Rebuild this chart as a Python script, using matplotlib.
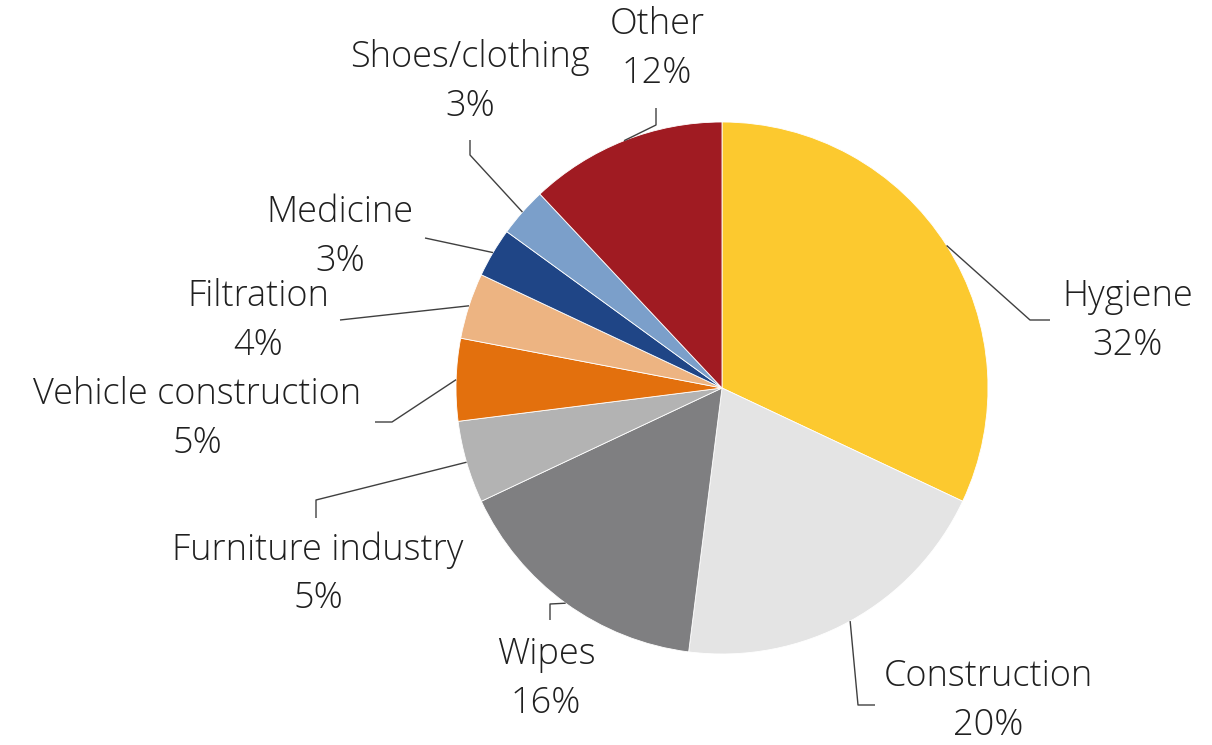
import numpy as np
import matplotlib.pyplot as plt

categories = ["Hygiene", "Construction", "Wipes", "Furniture industry",
              "Vehicle construction", "Filtration", "Medicine",
              "Shoes/clothing", "Other"]
shares = [32, 20, 16, 5, 5, 4, 3, 3, 12]
colors = ["#FCC92F", "#E4E4E4", "#7F7F81", "#B3B3B3", "#E3700D",
          "#EDB482", "#1F4586", "#7B9FCA", "#A01B22"]

W, H = 1212, 745
fig = plt.figure(figsize=(W / 100, H / 100), dpi=100)
ax = fig.add_axes([0, 0, 1, 1])

cx, cy, R = 722, H - 388, 266
wedges, _ = ax.pie(shares, colors=colors, startangle=90, counterclock=False,
                   center=(cx, cy), radius=R, frame=True,
                   wedgeprops=dict(edgecolor="white", linewidth=0.6))
ax.set_xlim(0, W)
ax.set_ylim(0, H)
ax.set_aspect("equal")
ax.axis("off")

# label layout: (text block center x, y in pixels), leader path points (pixels, after wedge edge)
layout = {
    "Hygiene": ((1128, 321), [(1030, 320), (1050, 320)]),
    "Construction": ((988, 701), [(858, 705), (875, 705)]),
    "Wipes": ((546, 679), [(550, 604), (550, 620)]),
    "Furniture industry": ((318, 574), [(316, 500), (316, 518)]),
    "Vehicle construction": ((197, 419), [(392, 422), (375, 422)]),
    "Filtration": ((258, 321), [(340, 320)]),
    "Medicine": ((340, 237), [(425, 238)]),
    "Shoes/clothing": ((470, 82), [(470, 155), (470, 140)]),
    "Other": ((657, 49), [(656, 125), (656, 108)]),
}

font = ["Open Sans", "DejaVu Sans"]
cum = 0.0
for name, v in zip(categories, shares):
    mid = 90 - 360 * (cum + v / 2) / 100
    cum += v
    ex = cx + R * np.cos(np.radians(mid))
    ey = cy + R * np.sin(np.radians(mid))
    (tx, ty), path = layout[name]
    xs = [ex] + [p[0] for p in path]
    ys = [ey] + [H - p[1] for p in path]
    ax.plot(xs, ys, color="#404040", lw=1.0, solid_capstyle="butt")
    ax.text(tx, H - ty, f"{name}\n{v}%", ha="center", va="center",
            fontsize=26, color="#202020", family=font, weight="light",
            linespacing=1.4)

fig.savefig("out.png", dpi=100)
